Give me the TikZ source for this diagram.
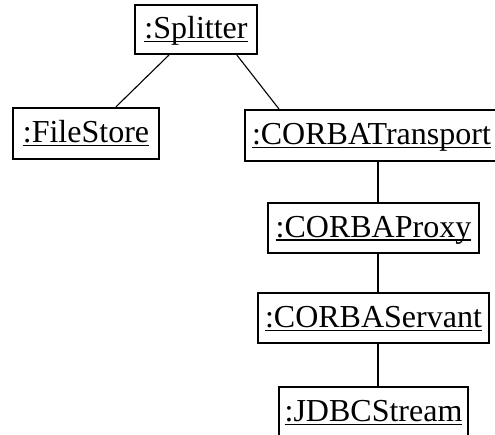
\documentclass[tikz,border=0pt]{standalone}
\usepackage{fontspec}
\setmainfont{Liberation Serif}
\usetikzlibrary{calc}
% underlined object name, with the rule at a fixed depth
\newcommand\objname[1]{\setbox0=\hbox{#1}\rlap{\rule[-3.5bp]{\wd0}{1.5bp}}\box0}
\tikzset{
  objfont/.style={font=\fontsize{32bp}{37bp}\selectfont, inner sep=0pt, text height=21bp, text depth=2bp},
  obj/.style={objfont, draw, line width=2.2bp},
  link/.style={line width=1.6bp},
  slant/.style={line width=1.1bp}
}
\begin{document}
\begin{tikzpicture}[x=1bp, y=-1bp]
\useasboundingbox (0,0) rectangle (495,435);
\clip (0,0) rectangle (495,435);
\node[obj, minimum width=122bp, minimum height=49bp] (sp) at (196,29.5) {\objname{:Splitter}};
\node[obj, minimum width=146bp, minimum height=51bp] (fs) at (86,133.5) {\objname{:FileStore}};
\node[obj, minimum width=266bp, minimum height=51bp, text width=266bp, align=left] (tr) at (378,135.5) {\hspace*{7bp}\objname{:CORBATransport}};
\node[obj, minimum width=211bp, minimum height=50bp] (px) at (373.5,228) {\objname{:CORBAProxy}};
\node[obj, minimum width=231bp, minimum height=50bp] (sv) at (373.5,318) {\objname{:CORBAServant}};
\node[obj, minimum width=189bp, minimum height=80bp] (jd) at (373.5,427) {};
\node[objfont] (jdt) at (373.5,412) {\objname{:JDBCStream}};
\coordinate (v) at (378,0);
\draw[slant] ($(sp.south west)+(35,0)$) -- ($(fs.north west)+(104,0)$);
\draw[slant] ($(sp.south west)+(103,0)$) -- ($(tr.north west)+(35,0)$);
\draw[link] (tr.south -| v) -- (px.north -| v);
\draw[link] (px.south -| v) -- (sv.north -| v);
\draw[link] (sv.south -| v) -- (jd.north -| v);
\end{tikzpicture}
\end{document}
